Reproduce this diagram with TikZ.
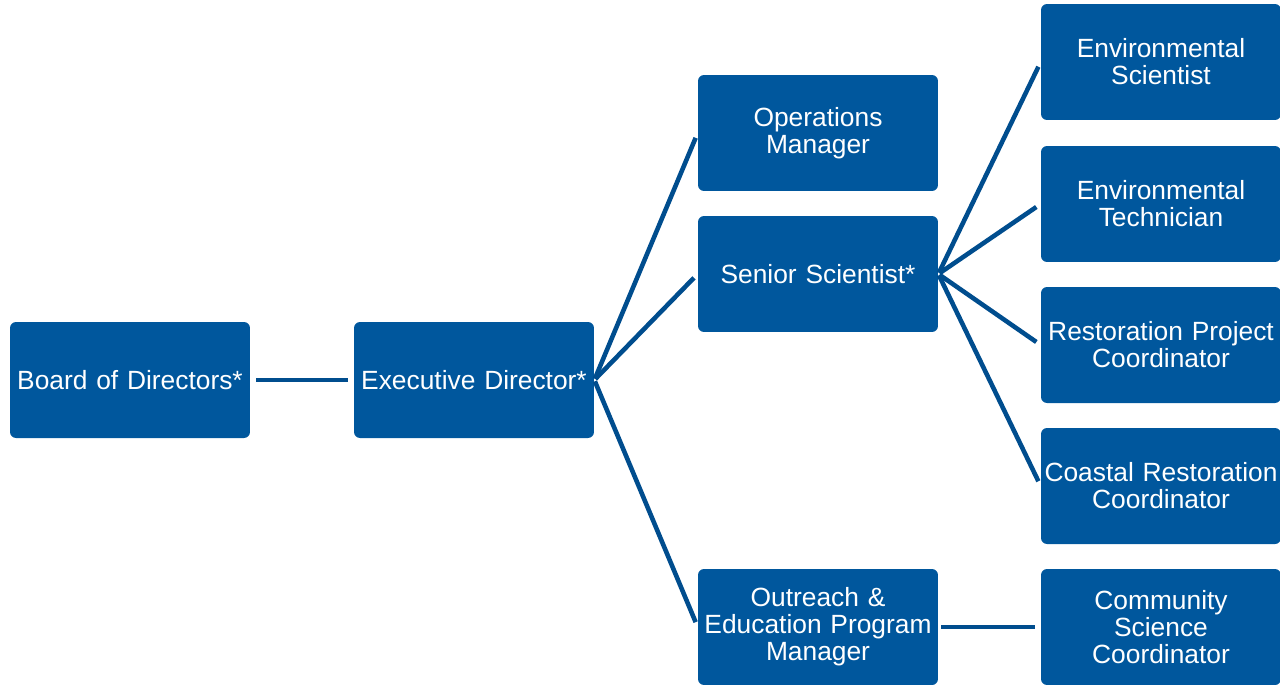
\documentclass[tikz,border=0pt]{standalone}
\usepackage{fontspec}
\setmainfont{Liberation Sans}
\usetikzlibrary{positioning}
\definecolor{boxblue}{RGB}{0,87,157}
\definecolor{lineblue}{RGB}{0,77,142}

\begin{document}
\begin{tikzpicture}[x=0.02cm,y=-0.02cm,
    post/.style={fill=boxblue,rounded corners=0.12cm,text=white,
      minimum width=4.8cm,minimum height=2.32cm,text width=4.8cm,
      inner sep=0pt,align=center,font=\fontsize{15}{15.4}\selectfont},
    link/.style={draw=lineblue,line width=2.6pt,shorten <=0.8pt,shorten >=3pt}]
  \useasboundingbox (0,0) rectangle (1280,684);
  % first two levels
  \node[post] (board) at (130,380) {Board of Directors*};
  \node[post] (exec) at (474,380) {Executive Director*};
  % managers
  \node[post] (ops) at (818,133) {Operations\\Manager};
  \node[post] (senior) at (818,274) {Senior Scientist*};
  \node[post] (outreach) at (818,627) {Outreach \&\\Education Program\\Manager};
  % staff
  \node[post] (envsci) at (1161,62) {Environmental\\Scientist};
  \node[post] (envtech) at (1161,204) {Environmental\\Technician};
  \node[post] (restproj) at (1161,345) {Restoration Project\\Coordinator};
  \node[post] (coastal) at (1161,486) {Coastal Restoration\\Coordinator};
  \node[post] (community) at (1161,627) {Community\\Science\\Coordinator};
  % connectors
  \draw[link,shorten <=3.4pt,shorten >=3.4pt] (board) -- (exec);
  \foreach \c in {ops,senior,outreach}
    \draw[link] (exec.east) -- (\c.west);
  \foreach \c in {envsci,envtech,restproj,coastal}
    \draw[link] (senior.east) -- (\c.west);
  \draw[link,shorten <=1.7pt,shorten >=3.4pt] (outreach) -- (community);
\end{tikzpicture}
\end{document}
